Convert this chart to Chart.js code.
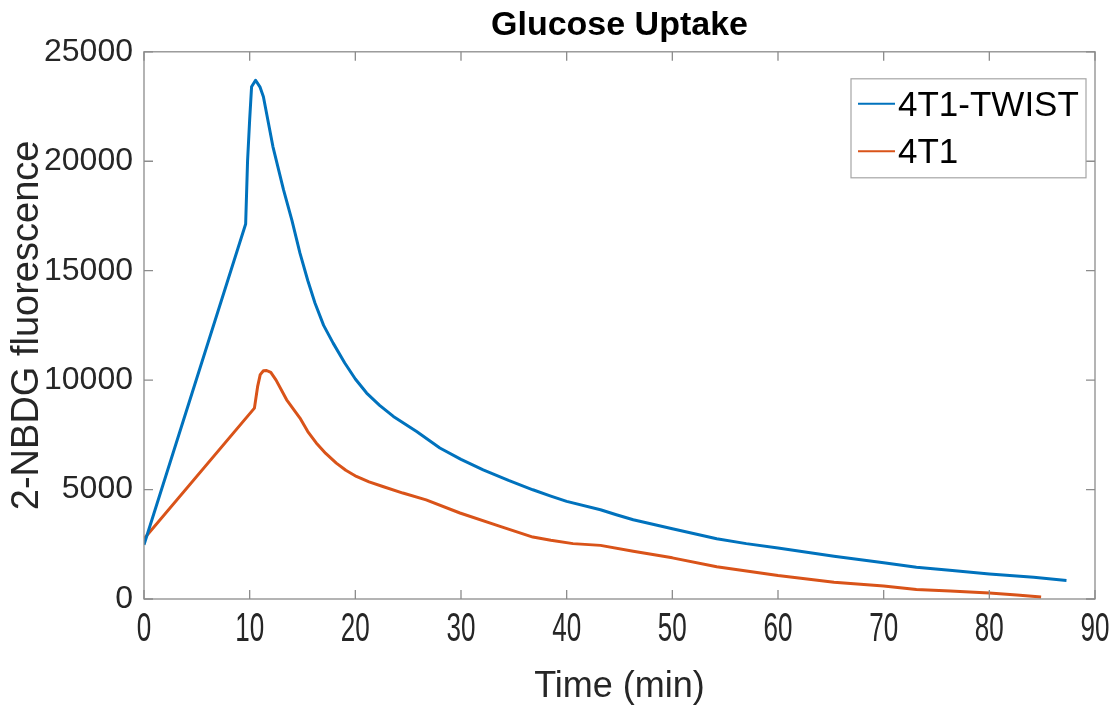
<!DOCTYPE html>
<html>
<head>
<meta charset="utf-8">
<script src="https://cdn.jsdelivr.net/npm/chart.js@4"></script>
<style>
  html, body { margin: 0; padding: 0; background: #fff; }
  canvas { display: block; }
</style>
</head>
<body>
<canvas id="c" width="1116" height="709"></canvas>
<script>
// ---- data ----
const chartTitle = 'Glucose Uptake';
const xAxisTitle = 'Time (min)';
const yAxisTitle = '2-NBDG fluorescence';
const seriesNames = ['4T1-TWIST', '4T1'];

const xTickValues = [0, 10, 20, 30, 40, 50, 60, 70, 80, 90];
const xTickLabels = ['0', '10', '20', '30', '40', '50', '60', '70', '80', '90'];
const yTickValues = [0, 5000, 10000, 15000, 20000, 25000];
const yTickLabels = ['0', '5000', '10000', '15000', '20000', '25000'];

const twistTime = [0, 9.62, 9.8, 10.0, 10.18, 10.56, 10.97, 11.3, 12.2, 13.2, 14.0, 14.76, 15.5, 16.18, 17.0, 17.9, 19.0, 20.0, 21.07, 22.3, 23.6, 25.8, 28.0, 30.0, 32.1, 34.5, 36.8, 38.5, 40.0, 43.2, 44.7, 46.3, 50.0, 54.2, 57.0, 60.0, 65.3, 70.0, 73.1, 76.5, 80.0, 84.2, 87.3];
const twistValues = [2480, 17130, 20000, 21900, 23400, 23700, 23400, 22950, 20670, 18700, 17300, 15800, 14550, 13520, 12500, 11690, 10780, 10050, 9410, 8850, 8340, 7650, 6900, 6380, 5900, 5420, 4990, 4700, 4460, 4080, 3850, 3620, 3210, 2750, 2530, 2330, 1950, 1660, 1450, 1300, 1140, 990, 850];

const t1Time = [0, 10.45, 10.75, 11.0, 11.3, 11.6, 12.0, 12.5, 13.5, 14.76, 15.5, 16.3, 17.2, 18.2, 19.1, 20.1, 21.3, 22.6, 24.5, 26.7, 29.9, 33.7, 36.8, 38.5, 40.6, 43.2, 46.3, 50.0, 54.2, 60.0, 65.3, 70.0, 73.1, 76.3, 80.0, 82.6, 84.9];
const t1Values = [2750, 8720, 9700, 10250, 10430, 10440, 10350, 10000, 9100, 8265, 7650, 7130, 6650, 6210, 5880, 5600, 5350, 5140, 4840, 4530, 3930, 3320, 2830, 2680, 2530, 2450, 2180, 1880, 1470, 1070, 770, 590, 430, 360, 270, 180, 95];

const seriesColors = ['#0072BD', '#D95319'];

// ---- helpers ----
const FONT = "'Liberation Sans', Arial, sans-serif";
const AXIS_COLOR = '#8c8c8c';
const TEXT_COLOR = '#262626';

function toPoints(xs, ys) { return xs.map((x, i) => ({ x: x, y: ys[i] })); }

const framePlugin = {
  id: 'frame',
  afterDatasetsDraw(chart) {
    const { ctx, chartArea: a, scales } = chart;
    ctx.save();
    ctx.strokeStyle = AXIS_COLOR;
    ctx.lineWidth = 1.3;
    ctx.strokeRect(a.left, a.top, a.right - a.left, a.bottom - a.top);
    const L = 9;
    ctx.beginPath();
    xTickValues.forEach(v => {
      const px = scales.x.getPixelForValue(v);
      ctx.moveTo(px, a.bottom); ctx.lineTo(px, a.bottom - L);
      ctx.moveTo(px, a.top); ctx.lineTo(px, a.top + L);
    });
    yTickValues.forEach(v => {
      const py = scales.y.getPixelForValue(v);
      ctx.moveTo(a.left, py); ctx.lineTo(a.left + L, py);
      ctx.moveTo(a.right, py); ctx.lineTo(a.right - L, py);
    });
    ctx.stroke();
    // x tick labels (condensed, as in the reference)
    ctx.fillStyle = TEXT_COLOR;
    ctx.font = '40px ' + FONT;
    ctx.textAlign = 'center';
    ctx.textBaseline = 'alphabetic';
    xTickValues.forEach((v, i) => {
      const px = scales.x.getPixelForValue(v);
      ctx.save();
      ctx.translate(px, a.bottom + 42);
      ctx.scale(0.65, 1);
      ctx.fillText(xTickLabels[i], 0, 0);
      ctx.restore();
    });
    ctx.restore();
  }
};

const legendPlugin = {
  id: 'boxLegend',
  afterDraw(chart) {
    const { ctx, chartArea: a } = chart;
    const right = a.right - 9, top = a.top + 27;
    const w = 235, h = 99;
    const left = right - w;
    ctx.save();
    ctx.fillStyle = '#fff';
    ctx.fillRect(left, top, w, h);
    ctx.strokeStyle = '#a6a6a6';
    ctx.lineWidth = 1.2;
    ctx.strokeRect(left, top, w, h);
    chart.data.datasets.forEach((ds, i) => {
      const yText = top + 27.5 + i * 47.5;
      const yLine = yText - 2.5;
      ctx.strokeStyle = ds.borderColor;
      ctx.lineWidth = 2;
      ctx.beginPath();
      ctx.moveTo(left + 7, yLine);
      ctx.lineTo(left + 44, yLine);
      ctx.stroke();
      ctx.fillStyle = '#000';
      ctx.font = '35px ' + FONT;
      ctx.textBaseline = 'middle';
      ctx.textAlign = 'left';
      ctx.fillText(ds.label, left + 47, yText);
    });
    ctx.restore();
  }
};

new Chart(document.getElementById('c'), {
  type: 'line',
  data: {
    datasets: [
      { label: seriesNames[0], data: toPoints(twistTime, twistValues), borderColor: seriesColors[0], backgroundColor: seriesColors[0], borderWidth: 3, pointRadius: 0, fill: false, tension: 0, borderJoinStyle: 'round' },
      { label: seriesNames[1], data: toPoints(t1Time, t1Values), borderColor: seriesColors[1], backgroundColor: seriesColors[1], borderWidth: 3, pointRadius: 0, fill: false, tension: 0, borderJoinStyle: 'round' }
    ]
  },
  options: {
    responsive: false,
    devicePixelRatio: 1,
    animation: false,
    layout: { padding: { left: 0, right: 21, top: 0, bottom: 0 } },
    plugins: {
      legend: { display: false },
      tooltip: { enabled: false },
      title: {
        display: true,
        fullSize: false,
        text: chartTitle,
        color: '#000',
        font: { family: FONT, size: 34, weight: 'bold' },
        padding: { top: 5, bottom: 6 }
      }
    },
    scales: {
      x: {
        type: 'linear',
        min: 0, max: 90,
        afterBuildTicks(scale) { scale.ticks = xTickValues.map(v => ({ value: v })); },
        afterFit(scale) { scale.height = 110; },
        grid: { display: false, drawTicks: false, tickLength: 0 },
        border: { display: false },
        ticks: { display: false },
        title: {
          display: true, text: xAxisTitle, color: TEXT_COLOR,
          font: { family: FONT, size: 36 },
          padding: { top: 0, bottom: 0 }
        }
      },
      y: {
        type: 'linear',
        min: 0, max: 25000,
        afterBuildTicks(scale) { scale.ticks = yTickValues.map(v => ({ value: v })); },
        afterFit(scale) { scale.width = 144; },
        grid: { display: false, drawTicks: false, tickLength: 0 },
        border: { display: false },
        ticks: {
          color: TEXT_COLOR,
          padding: 11,
          font: { family: FONT, size: 32 },
          callback(v) { const i = yTickValues.indexOf(v); return i >= 0 ? yTickLabels[i] : ''; }
        },
        title: {
          display: true, text: yAxisTitle, color: TEXT_COLOR,
          font: { family: FONT, size: 38 },
          padding: { top: 5, bottom: 0 }
        }
      }
    }
  },
  plugins: [framePlugin, legendPlugin]
});
</script>
</body>
</html>
